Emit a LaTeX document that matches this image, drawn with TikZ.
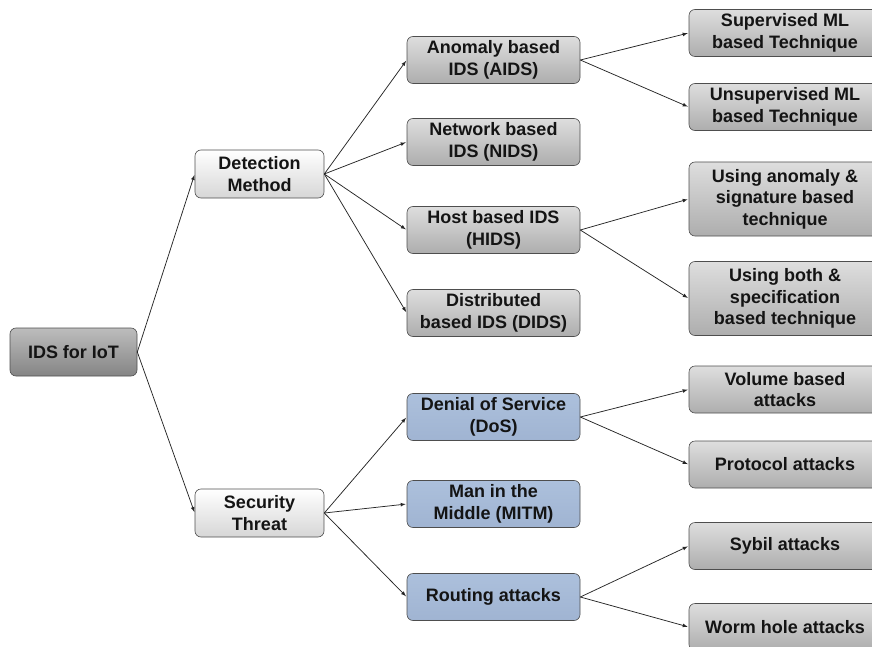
\documentclass[tikz,border=0pt]{standalone}
\usepackage{fontspec}
\setmainfont{Liberation Sans}
\definecolor{boxline}{HTML}{4E4E4E}
\definecolor{txt}{HTML}{141414}
\begin{document}
\begin{tikzpicture}[x=1pt,y=-1pt,>=latex,
		box/.style={draw=boxline,rounded corners=6pt,align=center,inner sep=0pt,text=txt,line width=0.6pt,
			font=\fontsize{18}{21.5}\selectfont\bfseries},
		greybox/.style={box,top color=black!13,bottom color=black!32},
		rootbox/.style={box,top color=black!26,bottom color=black!48,minimum width=127pt,minimum height=48pt},
		whitebox/.style={box,top color=white,bottom color=black!16,minimum width=129pt,minimum height=48pt},
		bluebox/.style={box,top color={rgb,255:red,172;green,192;blue,220},bottom color={rgb,255:red,160;green,180;blue,210},minimum width=173pt,minimum height=47pt},
		midbox/.style={greybox,minimum width=173pt,minimum height=47pt},
		leafbox/.style={greybox,minimum width=192pt,minimum height=47pt},
		link/.style={->,draw=black!85,line width=0.75pt,shorten >=1pt}]
		\useasboundingbox (0,0) rectangle (872,647);
		\clip (0,0) rectangle (872,647);
		% root and first level
		\node[rootbox] (iot) at (73.5,352) {IDS for IoT};
		\node[whitebox] (detect) at (259.5,174) {Detection\\Method};
		\node[whitebox] (threat) at (259.5,513) {Security\\Threat};
		% detection methods
		\node[midbox] (aids) at (493.5,60) {Anomaly based\\IDS (AIDS)};
		\node[midbox] (nids) at (493.5,142) {Network based\\IDS (NIDS)};
		\node[midbox] (hids) at (493.5,230) {Host based IDS\\(HIDS)};
		\node[midbox] (dids) at (493.5,313) {Distributed\\based IDS (DIDS)};
		% threats
		\node[bluebox] (dos) at (493.5,417) {Denial of Service\\(DoS)};
		\node[bluebox] (mitm) at (493.5,504) {Man in the\\Middle (MITM)};
		\node[bluebox] (routing) at (493.5,597) {Routing attacks};
		% leaves
		\node[leafbox] (sup) at (785,33) {Supervised ML\\based Technique};
		\node[leafbox] (unsup) at (785,107) {Unsupervised ML\\based Technique};
		\node[leafbox,minimum height=74pt] (anosig) at (785,199) {Using anomaly \&\\signature based\\technique};
		\node[leafbox,minimum height=74pt] (bothspec) at (785,298.5) {Using both \&\\specification\\based technique};
		\node[leafbox] (volume) at (785,389.5) {Volume based\\attacks};
		\node[leafbox] (proto) at (785,464.5) {Protocol attacks};
		\node[leafbox] (sybil) at (785,546) {Sybil attacks};
		\node[leafbox] (worm) at (785,627) {Worm hole attacks};
		% connectors
		\draw[link] (iot.east) -- (detect.west);
		\draw[link] (iot.east) -- (threat.west);
		\foreach \c in {aids,nids,hids,dids}
			\draw[link] (detect.east) -- (\c.west);
		\foreach \c in {dos,mitm,routing}
			\draw[link] (threat.east) -- (\c.west);
		\draw[link] (aids.east) -- (sup.west);
		\draw[link] (aids.east) -- (unsup.west);
		\draw[link] (hids.east) -- (anosig.west);
		\draw[link] (hids.east) -- (bothspec.west);
		\draw[link] (dos.east) -- (volume.west);
		\draw[link] (dos.east) -- (proto.west);
		\draw[link] (routing.east) -- (sybil.west);
		\draw[link] (routing.east) -- (worm.west);
\end{tikzpicture}
\end{document}
